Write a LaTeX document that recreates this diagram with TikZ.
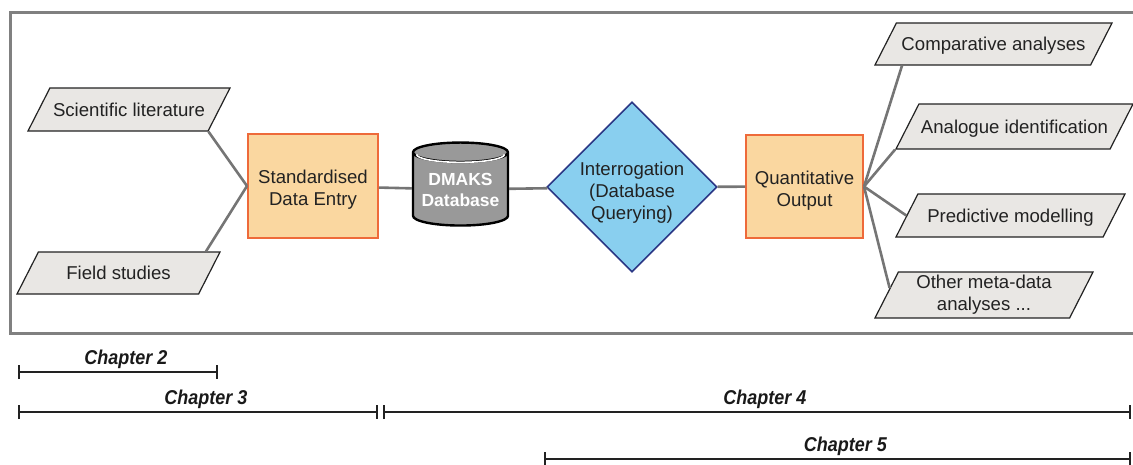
\documentclass[tikz,border=0pt]{standalone}
\usepackage{fontspec}
\setmainfont{Liberation Sans}
\newfontfamily\chapfont[FakeStretch=0.9]{Liberation Sans}
\usetikzlibrary{arrows.meta,shapes.geometric,calc}
\definecolor{boxfill}{HTML}{FAD7A0}
\definecolor{boxline}{HTML}{EE6A3A}
\definecolor{qfill}{HTML}{89CFEF}
\definecolor{qline}{HTML}{2B3785}
\definecolor{srcfill}{HTML}{E9E7E4}
\definecolor{wire}{HTML}{757575}
\definecolor{ink}{HTML}{222222}

\begin{document}
\begin{tikzpicture}[
  x=1pt,
  y=-1pt,
  txt/.style={font=\fontsize{18.6}{22}\selectfont,text=ink,align=center},
  para/.style={txt,trapezium,trapezium left angle=63,trapezium right angle=117,
    trapezium stretches body,fill=srcfill,draw=ink,line width=1.2pt,inner xsep=0pt},
  oneline/.style={text height=15.6pt,text depth=1.9pt},
  stage/.style={txt,rectangle,fill=boxfill,draw=boxline,line width=2pt,inner sep=0pt},
  wire/.style={draw=wire,line width=2.6pt},
  span/.style={{Bar[width=14pt]}-{Bar[width=14pt]},draw=ink,line width=2pt},
  chap/.style={font=\chapfont\fontsize{20}{24}\selectfont\bfseries\itshape,text=black!90,inner sep=0pt}
]
\useasboundingbox (0,0) rectangle (1133,464);
\draw[wire,draw=black!50,line width=3pt] (10,12) rectangle (1145,333);

% sources
\node[para,oneline,minimum width=202pt,inner ysep=12.75pt] (sci) at (129,109.5) {Scientific literature};
\node[para,oneline,minimum width=203pt,inner ysep=12.25pt] (field) at (118.5,273) {Field studies};

% main chain
\node[stage,minimum width=130pt,minimum height=104pt] (entry) at (313,186) {\rule{0pt}{21pt}Standardised\\Data Entry};
\node[cylinder,shape border rotate=90,aspect=0.25,fill=black!40,draw=black,line width=2.4pt,
  minimum width=95pt,minimum height=83pt,inner sep=0pt,text=white,align=center,
  font=\fontsize{17.5}{21}\selectfont\bfseries] (db) at (460.5,189.5) {DMAKS\\Database};
\draw[white,line width=1.6pt] ($(db.north)+(-44,13)$) arc[start angle=180,end angle=0,x radius=44,y radius=8];
\node[txt,diamond,fill=qfill,draw=qline,line width=1.6pt,inner sep=-6pt,
  minimum width=170pt,minimum height=170pt] (query) at (632,187) {\rule{0pt}{25pt}Interrogation\\(Database\\Querying)};
\node[stage,minimum width=117pt,minimum height=103pt] (output) at (804.5,186.5) {\rule{0pt}{21pt}Quantitative\\Output};

% outputs
\node[para,oneline,minimum width=237pt,inner ysep=12.25pt] (comp) at (993.5,44) {Comparative analyses};
\node[para,oneline,minimum width=237pt,inner ysep=13.75pt] (analog) at (1014.5,126.5) {Analogue identification};
\node[para,oneline,minimum width=229pt,inner ysep=12.75pt] (pred) at (1010.5,215.5) {Predictive modelling};
\node[para,minimum width=218pt,inner ysep=3.25pt] (other) at (984,295) {Other meta-data\\analyses ...};

% connectors
\draw[wire] (sci.bottom right corner) -- (entry.west);
\draw[wire] ([xshift=-15pt]field.top right corner) -- (entry.west);
\draw[wire] (entry) -- (db);
\draw[wire] (db) -- (query);
\draw[wire] (query) -- (output);
\draw[wire] (output.east) -- ([xshift=28pt]comp.bottom left corner);
\draw[wire] (output.east) -- (analog.bottom left corner);
\draw[wire] (output.east) -- (pred.west);
\draw[wire] (output.east) -- ($(other.bottom left corner)!0.65!(other.top left corner)$);

% chapter spans
\coordinate (c2a) at (18,372);
\coordinate (c2b) at (218,372);
\coordinate (c3a) at (18,412);
\coordinate (c3b) at (378,412);
\coordinate (c4a) at (383,412);
\coordinate (c4b) at (1131,412);
\coordinate (c5a) at (544,459);
\coordinate (c5b) at (1131,459);
\draw[span] (c2a) -- (c2b) node[chap,midway,above=2pt,xshift=8pt] (ch2) {Chapter 2};
\draw[span] (c3a) -- (c3b) node[chap,midway,above=2pt,xshift=8pt] (ch3) {Chapter 3};
\draw[span] (c4a) -- (c4b) node[chap,midway,above=2pt,xshift=8pt] (ch4) {Chapter 4};
\draw[span] (c5a) -- (c5b) node[chap,midway,above=2pt,xshift=8pt] (ch5) {Chapter 5};
\end{tikzpicture}
\end{document}
